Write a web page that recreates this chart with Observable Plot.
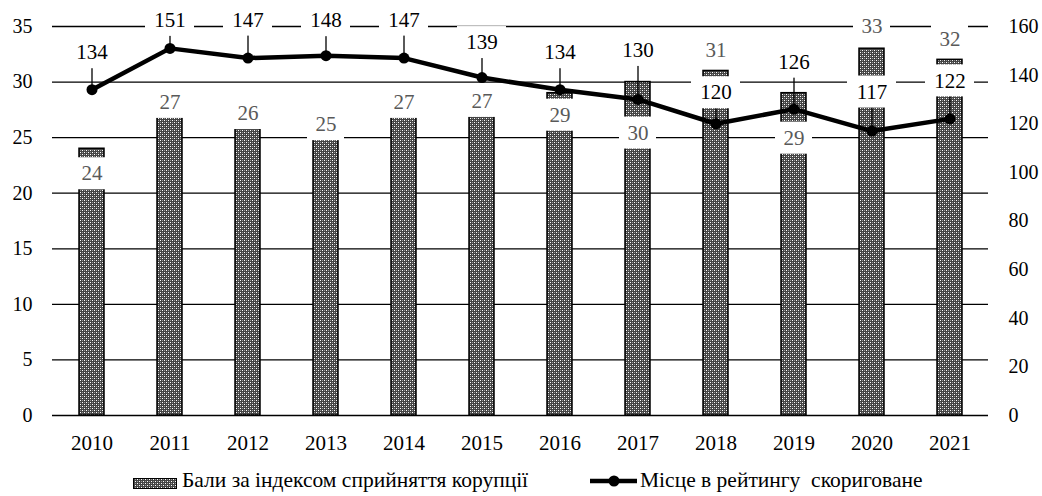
<!DOCTYPE html>
<html>
<head>
<meta charset="utf-8">
<script src="https://cdn.jsdelivr.net/npm/d3@7"></script>
<script src="https://cdn.jsdelivr.net/npm/@observablehq/plot@0.6"></script>
<style>
  html, body { margin: 0; padding: 0; background: #fff; }
  #chart { width: 1042px; }
  #legend { position: relative; width: 1042px; height: 38px; font-family: "Liberation Serif", "Tinos", "Times New Roman", "DejaVu Serif", serif; font-size: 21.5px; color: #000; }
  .item { position: absolute; top: 9px; height: 26px; display: flex; align-items: center; white-space: pre; }
  #chart svg text { font-family: "Liberation Serif", "Tinos", "Times New Roman", "DejaVu Serif", serif; }
</style>
</head>
<body>
<div id="chart"></div>
<div id="legend">
  <div class="item" style="left:133px">
    <svg width="44" height="26" style="margin-right:5px">
      <defs>
        <pattern id="legPat" patternUnits="userSpaceOnUse" width="4" height="4">
          <rect width="4" height="4" fill="#444"/>
          <rect x="0" y="0" width="1" height="1" fill="#fff"/>
          <rect x="2" y="2" width="1" height="1" fill="#fff"/>
          <rect x="2" y="0" width="1" height="1" fill="#999"/>
          <rect x="0" y="2" width="1" height="1" fill="#999"/>
        </pattern>
      </defs>
      <rect x="0.5" y="11.5" width="43" height="10" fill="url(#legPat)" stroke="#000" stroke-width="1" shape-rendering="crispEdges"/>
    </svg><span>Бали за індексом сприйняття корупції</span>
  </div>
  <div class="item" style="left:590px">
    <svg width="47" height="26" style="margin-right:3px">
      <line x1="0" x2="47" y1="14" y2="14" stroke="#000" stroke-width="4.5"/>
      <circle cx="24" cy="14" r="5.5" fill="#000"/>
    </svg><span>Місце в рейтингу  скориговане</span>
  </div>
</div>
<script>
// ---- data ----
const years  = ["2010","2011","2012","2013","2014","2015","2016","2017","2018","2019","2020","2021"];
const scores = [24, 27, 26, 25, 27, 27, 29, 30, 31, 29, 33, 32];          // Бали за індексом сприйняття корупції (left axis)
const ranks  = [134, 151, 147, 148, 147, 139, 134, 130, 120, 126, 117, 122]; // Місце в рейтингу скориговане (right axis)
const leftTicks  = [0, 5, 10, 15, 20, 25, 30, 35];
const rightTicks = [0, 20, 40, 60, 80, 100, 120, 140, 160];

// ---- layout (label nudges in px, negative = up; mirrors manually placed labels) ----
const scoreLabelNudge = [25, -13, -13, -13, -13, -14, 22, 51, -21, 45, -22, -21];
const rankLabelNudge  = [-37, -28, -38, -35, -38, -35, -37, -49, -31, -47, -39, -38];

const W = 1042, H = 458, mT = 26, mB = 43, mL = 52, mR = 54;
const leftMax = 35, rightMax = 160;
const toLeft = v => v * leftMax / rightMax;
const ppu = (H - mT - mB) / leftMax;

const rows = years.map((y, i) => {
  const rankU = toLeft(ranks[i]);
  return {
    year: y,
    score: scores[i],
    rank: ranks[i],
    rankU,
    scoreLabelY: scores[i] - scoreLabelNudge[i] / ppu,
    rankLabelY: rankU - rankLabelNudge[i] / ppu
  };
});

const boxHalf = 16 / ppu;
const font = '"Liberation Serif", "Tinos", "Times New Roman", "DejaVu Serif", serif';

const plot = Plot.plot({
  width: W, height: H,
  marginTop: mT, marginBottom: mB, marginLeft: mL, marginRight: mR,
  style: { fontFamily: font, fontSize: "20px", color: "#000", background: "#fff" },
  x: { domain: years, paddingInner: 0.68, paddingOuter: 0.34, label: null },
  y: { domain: [0, leftMax], label: null },
  marks: [
    Plot.ruleY(leftTicks, { stroke: "#000", strokeWidth: 1.3 }),
    Plot.barY(rows, { x: "year", y: "score", fill: "url(#barPat)", stroke: "#000", strokeWidth: 1.5 }),
    Plot.line(rows, { x: "year", y: "rankU", stroke: "#000", strokeWidth: 4.5, strokeLinejoin: "round" }),
    Plot.dot(rows, { x: "year", y: "rankU", r: 5.5, fill: "#000" }),
    Plot.ruleX(rows, { x: "year", y1: "rankU", y2: "rankLabelY", stroke: "#000", strokeWidth: 1.3 }),
    // bar value labels (white boxes + grey text)
    Plot.barY(rows, { x: "year", y1: d => d.scoreLabelY - boxHalf, y2: d => d.scoreLabelY + boxHalf, fill: "#fff", insetLeft: -6, insetRight: -6 }),
    Plot.text(rows, { x: "year", y: "scoreLabelY", text: d => String(d.score), fill: "#595959", fontSize: 21 }),
    // rank labels (white boxes + black text)
    Plot.barY(rows, { x: "year", y1: d => d.rankLabelY - boxHalf, y2: d => d.rankLabelY + boxHalf, fill: "#fff", insetLeft: -12, insetRight: -12 }),
    Plot.text(rows, { x: "year", y: "rankLabelY", text: d => String(d.rank), fill: "#000", fontSize: 21 }),
    // axes
    Plot.axisY({ anchor: "left", ticks: leftTicks, tickSize: 0, tickPadding: 20, label: null, fontSize: 20 }),
    Plot.axisY({ anchor: "right", ticks: rightTicks.map(toLeft), tickFormat: v => String(Math.round(v * rightMax / leftMax)), tickSize: 0, tickPadding: 20, label: null, fontSize: 20 }),
    Plot.axisX({ tickSize: 0, tickPadding: 20, label: null, fontSize: 21 })
  ]
});

// bar pattern
const ns = "http://www.w3.org/2000/svg";
const defs = document.createElementNS(ns, "defs");
defs.innerHTML = `<pattern id="barPat" patternUnits="userSpaceOnUse" width="4" height="4">
  <rect width="4" height="4" fill="#444"/>
  <rect x="0" y="0" width="1" height="1" fill="#fff"/>
  <rect x="2" y="2" width="1" height="1" fill="#fff"/>
  <rect x="2" y="0" width="1" height="1" fill="#999"/>
  <rect x="0" y="2" width="1" height="1" fill="#999"/>
</pattern>`;
plot.insertBefore(defs, plot.firstChild);
document.getElementById("chart").appendChild(plot);
</script>
</body>
</html>
